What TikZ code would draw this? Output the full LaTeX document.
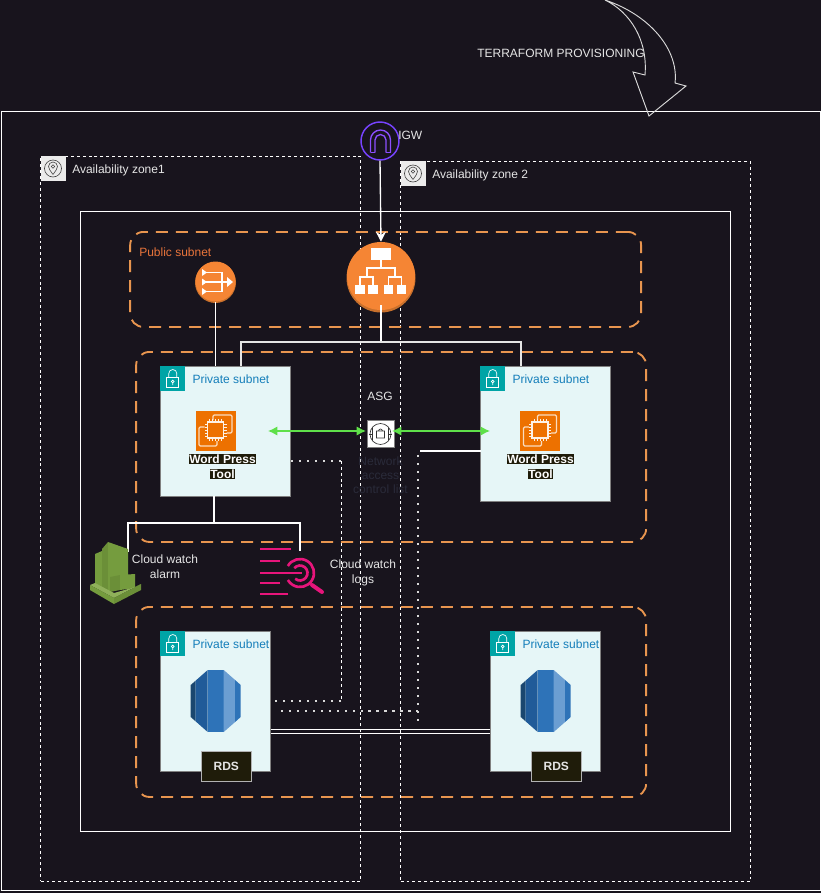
\documentclass[tikz,border=0pt]{standalone}
\usepackage{fontspec}
\setmainfont{Liberation Sans}
\usetikzlibrary{arrows.meta,calc}
\definecolor{bg}{HTML}{18141D}
\definecolor{dashor}{HTML}{E8954F}
\definecolor{pub}{HTML}{E8743B}
\definecolor{subfill}{HTML}{E6F6F7}
\definecolor{subteal}{HTML}{00A4A6}
\definecolor{subtxt}{HTML}{147EBA}
\definecolor{orangeaws}{HTML}{F58534}
\definecolor{orangedark}{HTML}{C8702C}
\definecolor{ec}{HTML}{ED7100}
\definecolor{igwc}{HTML}{8C4FFF}
\definecolor{lab}{HTML}{1F1C0A}
\definecolor{pinkc}{HTML}{E7157B}
\definecolor{rdsa}{HTML}{1A476F}
\definecolor{rdsb}{HTML}{205B99}
\definecolor{rdsc}{HTML}{2E73B8}
\definecolor{rdsd}{HTML}{6B9ED2}
\definecolor{grna}{HTML}{759C3E}
\definecolor{grnb}{HTML}{6B8F38}
\definecolor{grnc}{HTML}{4B612C}
\definecolor{grnd}{HTML}{8FB05A}
\definecolor{naclc}{HTML}{2A2B3A}
\definecolor{arrowg}{HTML}{5FE04A}
\tikzset{
 x=0.75pt,y=-0.75pt,
 every node/.style={font=\fontsize{9}{11.25}\selectfont,inner sep=0pt,align=center},
 wht/.style={draw=white,line width=0.75pt},
 zone/.style={draw=white,line width=0.7pt,dash pattern=on 2.2pt off 2.2pt},
 group/.style={draw=dashor,line width=1.4pt,rounded corners=10pt,dash pattern=on 9pt off 6pt},
 subnetbox/.style={draw=gray,line width=0.7pt,fill=subfill,anchor=north west},
 lbl/.style={text=white!90!black},
 wp/.style={text=white,fill=lab,font=\fontsize{9}{11.25}\selectfont\bfseries,inner sep=0.5pt},
 rdslabel/.style={fill=lab,draw=gray!60,line width=0.4pt,minimum width=37.5pt,minimum height=22.5pt,text=white!90!black,font=\fontsize{9}{11.25}\selectfont\bfseries,anchor=north west},
 conn/.style={draw=white,line width=1pt},
 dots/.style={draw=white!85!black,line width=1.5pt,dash pattern=on 1.5pt off 4.5pt},
 fine/.style={draw=white,line width=0.7pt,dash pattern=on 2.2pt off 2.2pt},
 grline/.style={draw=arrowg,line width=1.1pt,{Latex[length=7pt,width=7pt]}-{Latex[length=7pt,width=7pt]}},
}
\newcommand{\subnetnode}[5]{% name x y w h
 \node[subnetbox,minimum width=#4*0.75pt,minimum height=#5*0.75pt] (#1) at (#2,#3) {};
 \fill[subteal] (#2,#3) rectangle ++(25,25);
 \begin{scope}[shift={(#2,#3)}]
  \draw[white,line width=0.5pt] (6.5,11) rectangle (18.5,21.5);
  \draw[white,line width=0.5pt] (8.5,11) -- (8.5,7.5) arc (180:360:4) -- (16.5,11);
  \draw[white,line width=0.5pt] (12.5,15.5) circle (1.4) (12.5,16.9) -- (12.5,19);
 \end{scope}
 \node[anchor=west,text=subtxt] at ($(#2,#3)+(32,13.5)$) {Private subnet};
}
\newcommand{\ecicon}[3]{% name cx cy
 \node[fill=ec,minimum size=30pt] (#1) at (#2,#3) {};
 \begin{scope}[shift={(#2,#3-1)}]
  \draw[white!75!ec,line width=0.9pt,rounded corners=1pt] (-2.5,-10) -- (-2.5,-15) -- (16.5,-15) -- (16.5,3) -- (11,3);
  \draw[white!75!ec,line width=0.9pt,rounded corners=1pt] (-11,-3) -- (-16.5,-3) -- (-16.5,16) -- (1.5,16) -- (1.5,11);
  \draw[white!90!ec,line width=1pt] (-8,-8) rectangle (8,8);
  \foreach \t in {-6,-3,0,3,6}{
   \draw[white!90!ec,line width=0.5pt] (\t,-8) -- (\t,-11) (\t,8) -- (\t,11) (-8,\t) -- (-11,\t) (8,\t) -- (11,\t);}
 \end{scope}
}
\newcommand{\rdsicon}[3]{% name cx cy
 \node[minimum width=37.5pt,minimum height=46.5pt] (#1) at (#2,#3) {};
 \begin{scope}[shift={(#2,#3)}]
  \fill[rdsa] (-25,-16) -- (-20,-20.4) -- (-20,20.4) -- (-25,16) -- cycle;
  \fill[rdsb] (-20,-20.4) -- (-8,-31) -- (-8,31) -- (-20,20.4) -- cycle;
  \fill[rdsc] (-8,-31) rectangle (8,31);
  \fill[rdsd] (8,-31) -- (19.5,-20.9) -- (19.5,20.9) -- (8,31) -- cycle;
  \fill[rdsc] (19.5,-20.9) -- (25,-16) -- (25,16) -- (19.5,20.9) -- cycle;
 \end{scope}
}
\begin{document}
\begin{tikzpicture}
\useasboundingbox (0,0) rectangle (821,893);
\fill[bg] (0,0) rectangle (821,893);
% frames
\node[wht,minimum width=614.5pt,minimum height=584pt,anchor=north west] (vpc) at (0.5,111) {};
\node[zone,minimum width=240pt,minimum height=543.75pt,anchor=north west] (az1) at (40.2,156) {};
\node[zone,minimum width=262.5pt,minimum height=540pt,anchor=north west] (az2) at (400.2,161) {};
\node[wht,minimum width=487.5pt,minimum height=465pt,anchor=north west] (inner) at (80.2,211) {};
\node[group,minimum width=383.25pt,minimum height=71.25pt,anchor=north west] (pubg) at (129.2,231) {};
\node[group,minimum width=382.5pt,minimum height=142.5pt,anchor=north west] (privg1) at (135.2,351) {};
\node[group,minimum width=382.5pt,minimum height=142.5pt,anchor=north west] (privg2) at (135.2,606) {};
% AZ badges
\foreach \n/\x/\y in {b1/40.5/156,b2/400.5/161}{
 \node[fill=white!92!black,minimum size=18.75pt,anchor=north west] (\n) at (\x,\y) {};
 \draw[black!75,line width=0.45pt] (\x+12.5,\y+12.5) circle (8.5);
 \draw[black!75,line width=0.45pt] (\x+12.5,\y+18.5) .. controls (\x+10,\y+15) and (\x+8,\y+12.5) .. (\x+8,\y+10.5) arc (180:360:4.5) .. controls (\x+17,\y+12.5) and (\x+15,\y+15) .. (\x+12.5,\y+18.5);
 \draw[black!75,line width=0.45pt] (\x+12.5,\y+10.5) circle (1.8);
}
\node[lbl,anchor=west] (az1t) at (72,170) {Availability zone1};
\node[lbl,anchor=west] (az2t) at (432,175) {Availability zone 2};
% terraform arrow
\draw[white!85!black,line width=0.7pt,line join=miter] (605,0) .. controls (650,15) and (679,50) .. (675,83) -- (686,86) -- (649,116) -- (633,72) -- (645,75) .. controls (648,40) and (630,12) .. (605,0) -- cycle;
\node[lbl,anchor=west] (tf) at (477,53) {TERRAFORM PROVISIONING};
% subnets
\subnetnode{s1}{160.3}{366}{130}{130}
\subnetnode{s2}{480.3}{366}{130}{135}
\subnetnode{s3}{160.3}{631}{110}{140}
\subnetnode{s4}{490.3}{631}{110}{140}
% nat & alb & igw
\fill[orangedark] (215.5,282.5) circle (20.5);
\node[circle,fill=orangeaws,minimum size=30pt] (nat) at (215.5,281.5) {};
\begin{scope}[shift={(215,282)}]
 \draw[white,line width=1.2pt] (-9,-9.5) -- (7,-9.5) -- (7,9.5) -- (-9,9.5) (-9,0) -- (13,0);
 \fill[white] (-13,-13) -- (-8,-9.5) -- (-13,-6) -- cycle (-13,-3.5) -- (-8,0) -- (-13,3.5) -- cycle (-13,6) -- (-8,9.5) -- (-13,13) -- cycle (12,-5) -- (18,0) -- (12,5) -- cycle;
\end{scope}
\fill[orangedark] (381,278) circle (34.5);
\node[circle,fill=orangeaws,minimum size=51pt] (alb) at (381,276) {};
\begin{scope}[shift={(381,277)}]
 \fill[white] (-10,-29) rectangle (10,-17);
 \foreach \a/\b in {-26/-16,-13/-3,3/12,16/25}{\fill[white] (\a,8) rectangle (\b,17);}
 \draw[white,line width=1pt] (0,-17) -- (0,-9) (-14,0) -- (-14,-9) -- (14,-9) -- (14,0);
 \draw[white,line width=1pt] (-21,8) -- (-21,0) -- (-8,0) -- (-8,8) (7.5,8) -- (7.5,0) -- (20.5,0) -- (20.5,8);
\end{scope}
\node[circle,draw=igwc!85!blue,line width=1.1pt,minimum size=28.5pt] (igw) at (380,141) {};
\draw[igwc,line width=1pt] (370.5,152.5) -- (370.5,140) arc (180:360:10) -- (390.5,152.5);
\draw[igwc,line width=1pt] (375,152.5) -- (375,140) arc (180:360:5.5) -- (386,152.5);
\draw[igwc,line width=1pt] (370.5,152.5) -- (375,152.5) (386,152.5) -- (390.5,152.5);
\node[lbl,anchor=west] (igwt) at (398,135) {IGW};
\node[text=pub,anchor=west] (pubt) at (139,252) {Public subnet};
% connectors
\draw[conn,-{Stealth[length=7.5pt,width=7.5pt]}] (igw.south) -- (alb.north);
\draw[conn] (nat.south) -- (nat.south |- s1.north);
\coordinate (j1) at (381,342);
\draw[conn] (381,305) -- (j1);
\draw[conn,draw=white!90!black] (241,366) |- (521,342) -- (521,366);
% ec2
\ecicon{e1}{215.5}{431}
\ecicon{e2}{540}{431}
\node[wp] (w1) at (222.5,459) {Word Press};
\node[wp] (w1b) at (222.5,474) {Tool};
\node[wp] (w2) at (540.5,459) {Word Press};
\node[wp] (w2b) at (540.5,474) {Tool};
% asg
\node[draw=gray,fill=white,minimum size=20pt] (asg) at (380.5,434) {};
\draw[black!80,line width=0.5pt] (380.5,434) circle (10.5);
\draw[black!80,line width=0.5pt] (376.5,431) rectangle (384.5,438) (378.5,431) arc (180:360:2);
\draw[black!80,line width=0.5pt] (372.5,428) -- (372.5,440) (388.5,428) -- (388.5,440) (369,434) -- (372.5,434) (388.5,434) -- (392,434);
\node[lbl] (asgt) at (380,396) {ASG};
\coordinate (ga) at (268,431); \coordinate (gb) at (366,431); \coordinate (gc) at (392,431); \coordinate (gd) at (490,431);
\draw[grline] (ga) -- (gb);
\draw[grline] (gc) -- (gd);
\node[text=naclc,text width=70pt,font=\fontsize{9}{13.5}\selectfont] (nacl) at (380.5,475) {Network\\[-3pt]access\\[-3pt]control list};
% dotted links
\coordinate (d1) at (291,461); \coordinate (d2) at (341,461); \coordinate (d3) at (341,701); \coordinate (d4) at (271,701);
\draw[dots] (d1) -- (d2);
\draw[fine] (d2) -- (d3);
\draw[dots] (d3) -- (d4);
\coordinate (f1) at (481,451); \coordinate (f2) at (420,451); \coordinate (f3) at (417.5,455); \coordinate (f4) at (417.5,722); \coordinate (f5) at (281,711); \coordinate (f6) at (417.5,711); \coordinate (f7) at (365,711);
\draw[conn,line width=0.8pt] (f1) -- (f2);
\draw[dots] (f3) -- (f4);
\draw[dots] (f5) -- (f6);
\draw[dots] (f6) -- (f7);
\draw[conn] (s3.east |- 0,729.5) -- (s4.west |- 0,729.5);
\draw[conn] (s3.east |- 0,733.5) -- (s4.west |- 0,733.5);
% cloudwatch links
\draw[conn,line width=1.2pt] (214,496) -- (214,523);
\draw[conn,line width=1.2pt] (128,552) |- (300,523) -- (300,551);
% alarm icon
\fill[grna] (95,554) -- (102,551) -- (102,588) -- (95,586) -- cycle;
\fill[grnb] (102,549) -- (108,542) -- (108,590) -- (102,588) -- cycle;
\fill[grna] (108,542) -- (128,549) -- (128,576) -- (110,578) -- (110,592) -- (108,590) -- cycle;
\fill[grnb] (110,577) -- (120,575) -- (120,590) -- (110,592) -- cycle;
\fill[grna] (120,575) -- (135,574) -- (135,588) -- (120,590) -- cycle;
\fill[grnd] (90,585) -- (95,583) -- (114,593) -- (135,587) -- (141,584) -- (114,598) -- cycle;
\fill[grna] (90,585) -- (114,598) -- (114,604) -- (90,590) -- cycle;
\fill[grnb] (114,598) -- (141,584) -- (141,590) -- (114,604) -- cycle;
\node[lbl] (alarmt) at (165,566.5) {Cloud watch\\alarm};
% logs icon
\begin{scope}[pinkc,line width=2pt]
 \draw (260,549) -- (291,549) (260,561) -- (280,561) (260,573) -- (302,573) (260,583) -- (280,583) (260,594) -- (288,594);
 \draw (300,573) ++(210:14) arc (210:510:14);
 \draw (300,573) ++(220:7.5) arc (220:490:7.5);
 \draw[line width=3pt,line cap=round] (312,585) -- (322,592);
\end{scope}
\node[lbl] (logst) at (363,572.5) {Cloud watch\\logs};
% rds
\rdsicon{r1}{215.7}{701}
\rdsicon{r2}{545.7}{701}
\node[rdslabel] (rl1) at (201,751) {RDS};
\node[rdslabel] (rl2) at (531,751) {RDS};
\end{tikzpicture}
\end{document}
